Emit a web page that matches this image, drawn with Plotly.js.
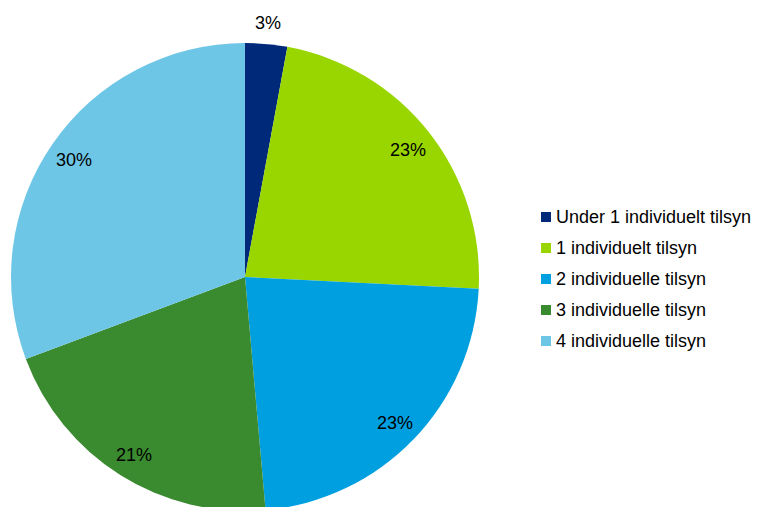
<!DOCTYPE html>
<html><head><meta charset="utf-8">
<script src="https://cdn.plot.ly/plotly-3.0.1.min.js"></script>
<style>html,body{margin:0;padding:0;overflow:hidden;background:#fff}</style>
</head><body><div id="chart" style="width:771px;height:512px"></div>
<script>
const labels = ["Under 1 individuelt tilsyn", "1 individuelt tilsyn", "2 individuelle tilsyn", "3 individuelle tilsyn", "4 individuelle tilsyn"];
const values = [2.9, 22.9, 22.8, 20.7, 30.7];
const pctLabels = ["3%", "23%", "23%", "21%", "30%"];
const colors = ["#00297A", "#99D600", "#009FDF", "#3A8A2F", "#6EC6E6"];

const W = 771, H = 512;
const FONT = "Liberation Sans, Arial, sans-serif";
// pie geometry (layout)
const pieL = 11, pieR = 479, pieTop = 43, pieBot = 511;
const cxPx = (pieL + pieR) / 2, cyPx = (pieTop + pieBot) / 2, rPx = (pieR - pieL) / 2;

const shapes = [], annotations = [];
// percentage labels placed at slice mid-angles, computed from values
const total = values.reduce((a, b) => a + b, 0);
let cum = 0;
values.forEach((v, i) => {
  const frac = v / total;
  const mid = (cum + frac / 2) * 2 * Math.PI;
  cum += frac;
  const rf = frac < 0.05 ? 1.10 : 0.89;
  const x = cxPx + rf * rPx * Math.sin(mid);
  const y = cyPx - rf * rPx * Math.cos(mid) + 2;
  annotations.push({xref: "paper", yref: "paper", x: x / W, y: 1 - y / H,
    xanchor: "center", yanchor: "middle", showarrow: false,
    text: pctLabels[i],
    font: {family: FONT, size: 18, color: "#000"}});
});

// legend
const legX = 541, legY0 = 217, legStep = 31;
labels.forEach((lab, i) => {
  const cy = legY0 + i * legStep;
  shapes.push({type: "rect", xref: "paper", yref: "paper",
    x0: legX / W, x1: (legX + 10) / W, y0: 1 - (cy + 5) / H, y1: 1 - (cy - 5) / H,
    fillcolor: colors[i], line: {width: 0}});
  annotations.push({xref: "paper", yref: "paper", x: (legX + 13) / W, y: 1 - cy / H,
    xanchor: "left", yanchor: "middle", showarrow: false, text: lab,
    font: {family: FONT, size: 18, color: "#000"}});
});

Plotly.newPlot("chart", [{
  type: "pie", labels: labels, values: values, sort: false, direction: "clockwise",
  rotation: 0, marker: {colors: colors, line: {width: 0}},
  textinfo: "none",
  domain: {x: [pieL / W, pieR / W], y: [(H - pieBot) / H, (H - pieTop) / H]},
  showlegend: false, hoverinfo: "none"
}], {
  width: W, height: H, margin: {l: 0, r: 0, t: 0, b: 0},
  paper_bgcolor: "#fff", showlegend: false, shapes: shapes, annotations: annotations
}, {staticPlot: true, displayModeBar: false});
</script></body></html>
